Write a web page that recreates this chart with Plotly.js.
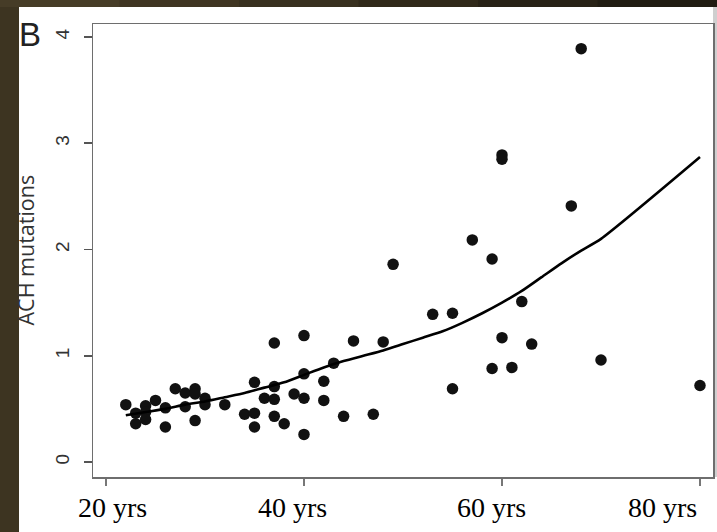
<!DOCTYPE html>
<html>
<head>
<meta charset="utf-8">
<script src="https://cdn.plot.ly/plotly-3.0.1.min.js"></script>
<style>
html,body{margin:0;padding:0;background:#3d3421;}
#chart{width:717px;height:532px;}
</style>
</head>
<body>
<div id="chart"></div>
<script>
// Observed data: age (years) vs ACH mutations
var ages = [22,23,23,24,24,24,25,26,26,27,28,28,29,29,29,30,30,32,34,35,35,35,36,37,37,37,37,38,39,40,40,40,40,42,42,43,44,45,47,48,49,53,55,55,57,59,59,60,60,60,61,62,63,67,68,70,80];
var mutations = [0.54,0.46,0.36,0.53,0.47,0.40,0.58,0.51,0.33,0.69,0.65,0.52,0.69,0.64,0.39,0.60,0.54,0.54,0.45,0.75,0.46,0.33,0.60,1.12,0.71,0.59,0.43,0.36,0.64,1.19,0.83,0.60,0.26,0.76,0.58,0.93,0.43,1.14,0.45,1.13,1.86,1.39,1.40,0.69,2.09,1.91,0.88,2.89,2.85,1.17,0.89,1.51,1.11,2.41,3.89,0.96,0.72];

// Fitted curve
var fitAges = [22,24,26,28,30,32,34,36,38,40,42,44,46,48,50,52,54,56,58,60,62,64,66,68,70,80];
var fitValues = [0.44,0.47,0.50,0.54,0.57,0.61,0.65,0.70,0.75,0.82,0.89,0.95,1.00,1.05,1.11,1.17,1.23,1.31,1.40,1.50,1.61,1.74,1.87,1.99,2.10,2.87];

// Axis ticks and labels
var xTickVals = [20,40,60,80];
var xLabelText = ['20 yrs','40 yrs','60 yrs','80 yrs'];
var xLabelAt = [20.63,38.82,58.92,76.21];
var yTickVals = [0,1,2,3,4];
var yTickText = ['0','1','2','3','4'];

var W = 717, H = 532;
var mL = 93, mR = 4, mT = 24, mB = 55;
var pw = W - mL - mR, ph = H - mT - mB;
function px(x){ return (x - mL) / pw; }
function py(y){ return (H - mB - y) / ph; }

var traces = [
  {
    x: ages, y: mutations, type: 'scatter', mode: 'markers',
    marker: {size: 11.5, color: '#111111'},
    hoverinfo: 'skip', showlegend: false
  },
  {
    x: fitAges, y: fitValues, type: 'scatter', mode: 'lines',
    line: {color: '#000000', width: 2.6, shape: 'spline', smoothing: 0.6},
    hoverinfo: 'skip', showlegend: false
  }
];

// background decoration
var shapes = [];
var topCols = ['#463c27','#3f3522','#38301f','#30291a','#282216','#211c12'];
for (var i = 0; i < topCols.length; i++) {
  shapes.push({type:'rect', xref:'paper', yref:'paper', layer:'below',
    x0: px(i*W/topCols.length), x1: px((i+1)*W/topCols.length + 1),
    y0: py(7), y1: py(0), fillcolor: topCols[i], line:{width:0}});
}
shapes.push({type:'rect', xref:'paper', yref:'paper', layer:'below',
  x0: px(19), x1: px(717), y0: py(532), y1: py(7),
  fillcolor:'#ffffff', line:{width:0}});
shapes.push({type:'rect', xref:'paper', yref:'paper', layer:'below',
  x0: px(713), x1: px(717), y0: py(477), y1: py(7),
  fillcolor:'#cfcfcf', line:{width:0}});

var annotations = [
  {text: 'ACH mutations', xref: 'paper', yref: 'paper', x: px(25), y: 0.5,
   xanchor: 'center', yanchor: 'middle', textangle: -90, showarrow: false,
   font: {family: '"Open Sans", "Noto Sans", sans-serif', size: 21.5, color: '#333333'}},
  {text: 'B', xref: 'paper', yref: 'paper', x: px(17), y: py(34),
   xanchor: 'left', yanchor: 'middle', showarrow: false,
   font: {family: '"Liberation Sans", Arial, sans-serif', size: 33, color: '#222222'}}
];
for (var k = 0; k < xLabelText.length; k++) {
  annotations.push({text: xLabelText[k], xref: 'x', yref: 'paper',
    x: xLabelAt[k], y: py(490), xanchor: 'center', yanchor: 'top', showarrow: false,
    font: {family: '"Liberation Serif", "Times New Roman", serif', size: 28, color: '#000000'}});
}

var layout = {
  width: W, height: H,
  margin: {l: mL, r: mR, t: mT, b: mB, pad: 0},
  paper_bgcolor: '#3d3421',
  plot_bgcolor: 'rgba(0,0,0,0)',
  showlegend: false,
  xaxis: {
    range: [18.687, 81.313],
    tickvals: xTickVals, showticklabels: false,
    showgrid: false, zeroline: false,
    showline: true, mirror: true, linecolor: '#6e6e6e', linewidth: 1.5,
    ticks: 'outside', ticklen: 7, tickwidth: 1.5, tickcolor: '#777777'
  },
  yaxis: {
    range: [-0.141, 4.122],
    tickvals: yTickVals, ticktext: yTickText,
    tickangle: -90, ticklabelstandoff: 7,
    showgrid: false, zeroline: false,
    showline: true, mirror: true, linecolor: '#6e6e6e', linewidth: 1.5,
    ticks: 'outside', ticklen: 8, tickwidth: 1.5, tickcolor: '#555555',
    tickfont: {family: '"Liberation Sans", Arial, sans-serif', size: 19, color: '#333333'}
  },
  shapes: shapes,
  annotations: annotations
};

Plotly.newPlot('chart', traces, layout, {displayModeBar: false, staticPlot: true});
</script>
</body>
</html>
